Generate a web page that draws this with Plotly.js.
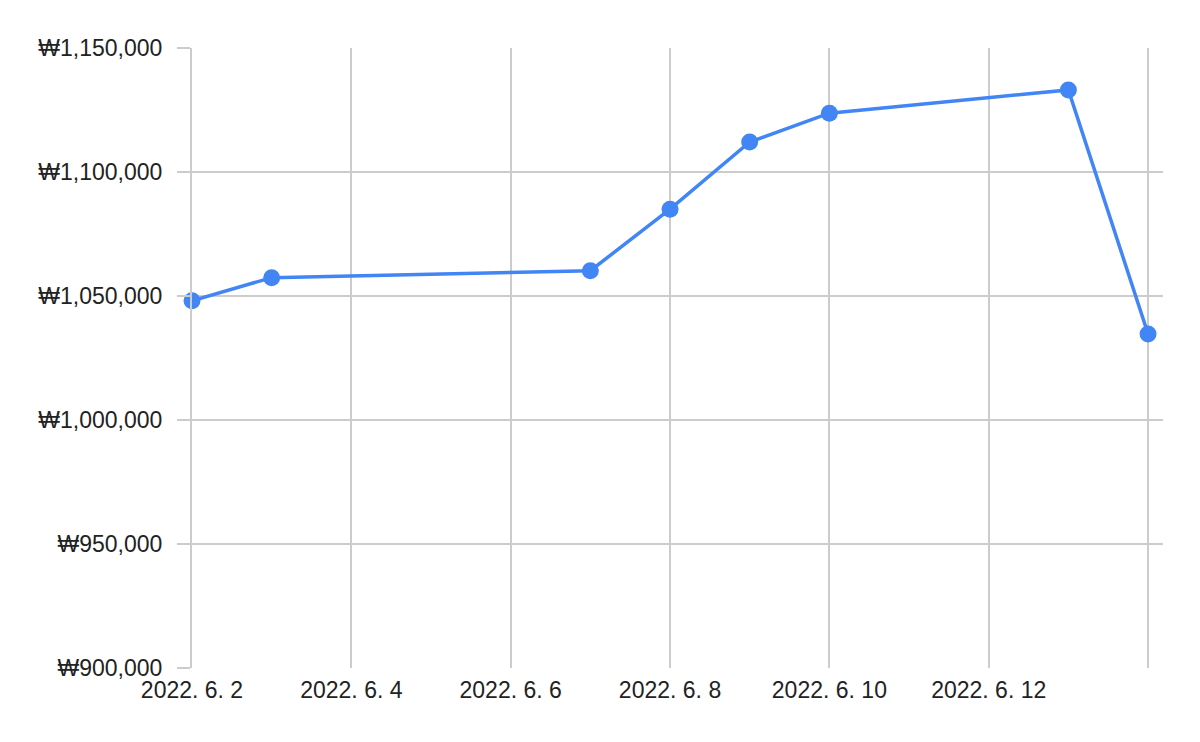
<!DOCTYPE html>
<html>
<head>
<meta charset="utf-8">
<script src="https://cdn.plot.ly/plotly-3.0.1.min.js"></script>
<style>html,body{margin:0;padding:0;background:#fff;}#chart{width:1200px;height:742px;}</style>
</head>
<body>
<div id="chart"></div>
<script>
const dates = ["2022-06-02","2022-06-03","2022-06-07","2022-06-08","2022-06-09","2022-06-10","2022-06-13","2022-06-14"];
const values = [1048100,1057400,1060200,1085000,1112100,1123700,1133100,1034700];
const xTickVals = ["2022-06-02","2022-06-04","2022-06-06","2022-06-08","2022-06-10","2022-06-12","2022-06-14"];
const xTickText = ["2022. 6. 2","2022. 6. 4","2022. 6. 6","2022. 6. 8","2022. 6. 10","2022. 6. 12",""];
const yTickVals = [900000,950000,1000000,1050000,1100000,1150000];
const yTickText = ["₩900,000","₩950,000","₩1,000,000","₩1,050,000","₩1,100,000","₩1,150,000"];

const trace = {
  x: dates, y: values, type: "scatter", mode: "lines+markers",
  line: {color: "#4285F4", width: 3.5},
  marker: {color: "#4285F4", size: 17},
  cliponaxis: false, hoverinfo: "none"
};
const layout = {
  width: 1200, height: 742,
  margin: {l: 192, r: 37, t: 48, b: 74},
  paper_bgcolor: "#fff", plot_bgcolor: "#fff",
  font: {family: "Liberation Sans, Arial, sans-serif", size: 23, color: "#222"},
  showlegend: false,
  xaxis: {
    type: "date",
    range: ["2022-06-02 00:00", "2022-06-14 04:30"],
    tickmode: "array", tickvals: xTickVals, ticktext: xTickText,
    showgrid: true, gridcolor: "#cccccc", gridwidth: 2,
    zeroline: false, showline: false, ticks: "",
    ticklabelstandoff: 6,
    tickfont: {size: 23, color: "#222"}
  },
  yaxis: {
    range: [900000, 1150000],
    tickmode: "array", tickvals: yTickVals, ticktext: yTickText,
    showgrid: true, gridcolor: "#cccccc", gridwidth: 2,
    zeroline: false, showline: true, linecolor: "#cccccc", linewidth: 2,
    ticks: "outside", ticklen: 13, tickcolor: "#cccccc", tickwidth: 2,
    ticklabelstandoff: 10,
    tickfont: {size: 23, color: "#222"}
  }
};
Plotly.newPlot("chart", [trace], layout, {displayModeBar: false, staticPlot: true});
</script>
</body>
</html>
